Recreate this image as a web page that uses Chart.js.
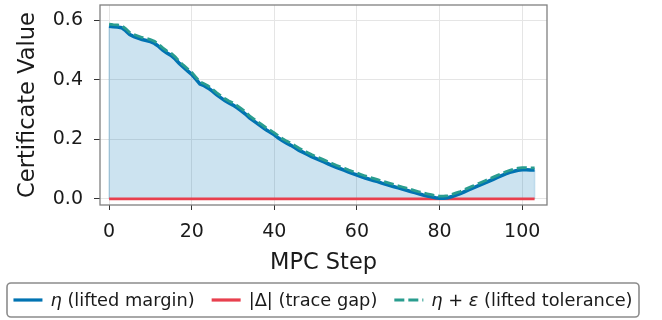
<!DOCTYPE html>
<html lang="en">
<head>
<meta charset="UTF-8">
<title>Certificate Value per MPC Step</title>
<script src="https://cdn.jsdelivr.net/npm/chart.js"></script>
<style>
    html, body { margin: 0; padding: 0; background: #ffffff; }
    #wrap { width: 662px; height: 320px; }
</style>
</head>
<body>
<div id="wrap"><canvas id="certChart" width="662" height="320"></canvas></div>
<script>
// MPC steps 0..103
const steps = Array.from({ length: 104 }, (_, i) => i);

// eta (lifted margin)
const eta = [
    0.580, 0.578, 0.577, 0.575, 0.565, 0.552, 0.545, 0.540, 0.535, 0.532,
    0.528, 0.522, 0.512, 0.500, 0.490, 0.482, 0.470, 0.455, 0.442, 0.430,
    0.418, 0.402, 0.386, 0.380, 0.372, 0.362, 0.350, 0.340, 0.330, 0.322,
    0.315, 0.306, 0.296, 0.285, 0.272, 0.262, 0.252, 0.242, 0.232, 0.224,
    0.215, 0.204, 0.195, 0.187, 0.180, 0.172, 0.163, 0.156, 0.149, 0.142,
    0.136, 0.130, 0.124, 0.118, 0.112, 0.106, 0.101, 0.096, 0.090, 0.085,
    0.080, 0.075, 0.070, 0.066, 0.062, 0.058, 0.053, 0.049, 0.045, 0.041,
    0.037, 0.033, 0.029, 0.025, 0.021, 0.017, 0.013, 0.010, 0.007, 0.004,
    0.002, 0.002, 0.004, 0.008, 0.013, 0.018, 0.024, 0.030, 0.036, 0.042,
    0.048, 0.054, 0.060, 0.066, 0.072, 0.078, 0.084, 0.089, 0.093, 0.096,
    0.098, 0.098, 0.097, 0.097
];

// |Delta| (trace gap)
const gap = [
    0, 0, 0, 0, 0, 0, 0, 0, 0, 0,  0, 0, 0, 0, 0, 0, 0, 0, 0, 0,
    0, 0, 0, 0, 0, 0, 0, 0, 0, 0,  0, 0, 0, 0, 0, 0, 0, 0, 0, 0,
    0, 0, 0, 0, 0, 0, 0, 0, 0, 0,  0, 0, 0, 0, 0, 0, 0, 0, 0, 0,
    0, 0, 0, 0, 0, 0, 0, 0, 0, 0,  0, 0, 0, 0, 0, 0, 0, 0, 0, 0,
    0, 0, 0, 0, 0, 0, 0, 0, 0, 0,  0, 0, 0, 0, 0, 0, 0, 0, 0, 0,
    0, 0, 0, 0
];

// eta + epsilon (lifted tolerance)
const tol = [
    0.587, 0.585, 0.584, 0.582, 0.572, 0.559, 0.552, 0.547, 0.542, 0.539,
    0.535, 0.529, 0.519, 0.507, 0.497, 0.489, 0.477, 0.462, 0.449, 0.437,
    0.425, 0.409, 0.393, 0.387, 0.379, 0.369, 0.357, 0.347, 0.337, 0.329,
    0.322, 0.313, 0.303, 0.292, 0.279, 0.269, 0.259, 0.249, 0.239, 0.231,
    0.222, 0.211, 0.202, 0.194, 0.187, 0.179, 0.170, 0.163, 0.156, 0.149,
    0.143, 0.137, 0.131, 0.125, 0.119, 0.113, 0.108, 0.103, 0.097, 0.092,
    0.087, 0.082, 0.077, 0.073, 0.069, 0.065, 0.060, 0.056, 0.052, 0.048,
    0.044, 0.040, 0.036, 0.032, 0.028, 0.024, 0.020, 0.017, 0.014, 0.011,
    0.009, 0.009, 0.011, 0.015, 0.020, 0.025, 0.031, 0.037, 0.043, 0.049,
    0.055, 0.061, 0.067, 0.073, 0.079, 0.085, 0.091, 0.096, 0.100, 0.103,
    0.105, 0.105, 0.104, 0.104
];

const xTicks = [0, 20, 40, 60, 80, 100];
const yTicks = [0.0, 0.2, 0.4, 0.6];

const BLUE = '#0173b2';
const RED = '#e8404e';
const TEAL = '#2a9d8f';
const FILL = 'rgba(1, 115, 178, 0.2)';
const FONT = "'DejaVu Sans', sans-serif";

const toXY = arr => arr.map((v, i) => ({ x: steps[i], y: v }));

// legend entries; each label is a list of [text, italic] runs
const legendItems = [
    { color: BLUE, dash: [], runs: [['η', true], [' (lifted margin)', false]] },
    { color: RED, dash: [], runs: [['|Δ| (trace gap)', false]] },
    { color: TEAL, dash: [10, 4], runs: [['η', true], [' + ', false], ['ε', true], [' (lifted tolerance)', false]] }
];

// edges of the shaded area (the fill polygon outline at the first/last step)
const fillEdgePlugin = {
    id: 'fillEdges',
    beforeDatasetsDraw(chart) {
        const ctx = chart.ctx;
        const xs = chart.scales.x, ys = chart.scales.y;
        ctx.save();
        ctx.strokeStyle = FILL;
        ctx.lineWidth = 1.5;
        [0, steps.length - 1].forEach(i => {
            const px = xs.getPixelForValue(steps[i]);
            ctx.beginPath();
            ctx.moveTo(px, ys.getPixelForValue(0));
            ctx.lineTo(px, ys.getPixelForValue(eta[i]));
            ctx.stroke();
        });
        ctx.restore();
    }
};

// frame round the plot + boxed legend at the bottom
const framePlugin = {
    id: 'frameAndLegend',
    afterDraw(chart) {
        const ctx = chart.ctx;
        const a = chart.chartArea;
        ctx.save();
        ctx.strokeStyle = '#808080';
        ctx.lineWidth = 1.3;
        ctx.strokeRect(a.left, a.top, a.right - a.left, a.bottom - a.top);

        // legend
        const fs = 17.8;
        const sample = 29, gapTxt = 8, spacing = 17;
        const widths = legendItems.map(it => {
            let w = 0;
            it.runs.forEach(([t, it2]) => {
                ctx.font = (it2 ? 'italic ' : '') + fs + 'px ' + FONT;
                w += ctx.measureText(t).width;
            });
            return w;
        });
        let total = 0;
        widths.forEach((w, i) => { total += sample + gapTxt + w + (i ? spacing : 0); });
        const cx = 323, cy = 300;
        const boxL = 7, boxR = 639, boxT = 283, boxB = 317;
        ctx.strokeStyle = '#8c8c8c';
        ctx.lineWidth = 1.6;
        ctx.beginPath();
        ctx.roundRect(boxL, boxT, boxR - boxL, boxB - boxT, 4);
        ctx.stroke();

        let x = cx - total / 2;
        ctx.textBaseline = 'middle';
        ctx.fillStyle = '#1a1a1a';
        legendItems.forEach((it, i) => {
            if (i) x += spacing;
            ctx.strokeStyle = it.color;
            ctx.lineWidth = 3.2;
            ctx.setLineDash(it.dash);
            ctx.beginPath();
            ctx.moveTo(x, cy);
            ctx.lineTo(x + sample, cy);
            ctx.stroke();
            ctx.setLineDash([]);
            x += sample + gapTxt;
            it.runs.forEach(([t, ital]) => {
                ctx.font = (ital ? 'italic ' : '') + fs + 'px ' + FONT;
                ctx.fillText(t, x, cy + 1);
                x += ctx.measureText(t).width;
            });
        });
        ctx.restore();
    }
};

const ctx = document.getElementById('certChart').getContext('2d');
new Chart(ctx, {
    type: 'line',
    data: {
        datasets: [
            {
                label: 'η + ε (lifted tolerance)',
                data: toXY(tol),
                borderColor: TEAL,
                borderWidth: 2.8,
                borderDash: [10, 4],
                pointRadius: 0,
                fill: false,
                order: 0
            },
            {
                label: 'η (lifted margin)',
                data: toXY(eta),
                borderColor: BLUE,
                backgroundColor: FILL,
                borderWidth: 3.6,
                pointRadius: 0,
                fill: 'origin',
                order: 1
            },
            {
                label: '|Δ| (trace gap)',
                data: toXY(gap),
                borderColor: RED,
                borderWidth: 2.8,
                pointRadius: 0,
                fill: false,
                order: 2
            }
        ]
    },
    options: {
        responsive: false,
        animation: false,
        layout: { padding: { left: 0, right: 115, top: 5, bottom: 45 } },
        plugins: {
            legend: { display: false },
            tooltip: { enabled: false },
            filler: { drawTime: 'beforeDatasetsDraw' }
        },
        scales: {
            x: {
                type: 'linear',
                min: -2.2,
                max: 106,
                afterBuildTicks: s => { s.ticks = xTicks.map(v => ({ value: v })); },
                afterFit: s => { s.height = 70; s.paddingLeft = 0; s.paddingRight = 0; },
                grid: { color: '#e5e5e5', tickColor: '#333', tickLength: 5, lineWidth: 1 },
                border: { display: false },
                ticks: {
                    font: { family: FONT, size: 19 },
                    color: '#1a1a1a',
                    padding: 11,
                    maxRotation: 0
                },
                title: {
                    display: true,
                    text: 'MPC Step',
                    font: { family: FONT, size: 22.5 },
                    color: '#1a1a1a',
                    padding: { top: 0, bottom: -2 }
                }
            },
            y: {
                min: -0.0205,
                max: 0.651,
                afterBuildTicks: s => { s.ticks = yTicks.map(v => ({ value: v })); },
                afterFit: s => { s.width = 100; s.paddingTop = 0; s.paddingBottom = 0; },
                grid: { color: '#e5e5e5', tickColor: '#333', tickLength: 6, lineWidth: 1 },
                border: { display: false },
                ticks: {
                    font: { family: FONT, size: 19 },
                    color: '#1a1a1a',
                    padding: 11,
                    callback: v => v.toFixed(1)
                },
                title: {
                    display: true,
                    text: 'Certificate Value',
                    font: { family: FONT, size: 22.5 },
                    color: '#1a1a1a',
                    padding: { top: 15, bottom: 0 }
                }
            }
        }
    },
    plugins: [fillEdgePlugin, framePlugin]
});
</script>
</body>
</html>
